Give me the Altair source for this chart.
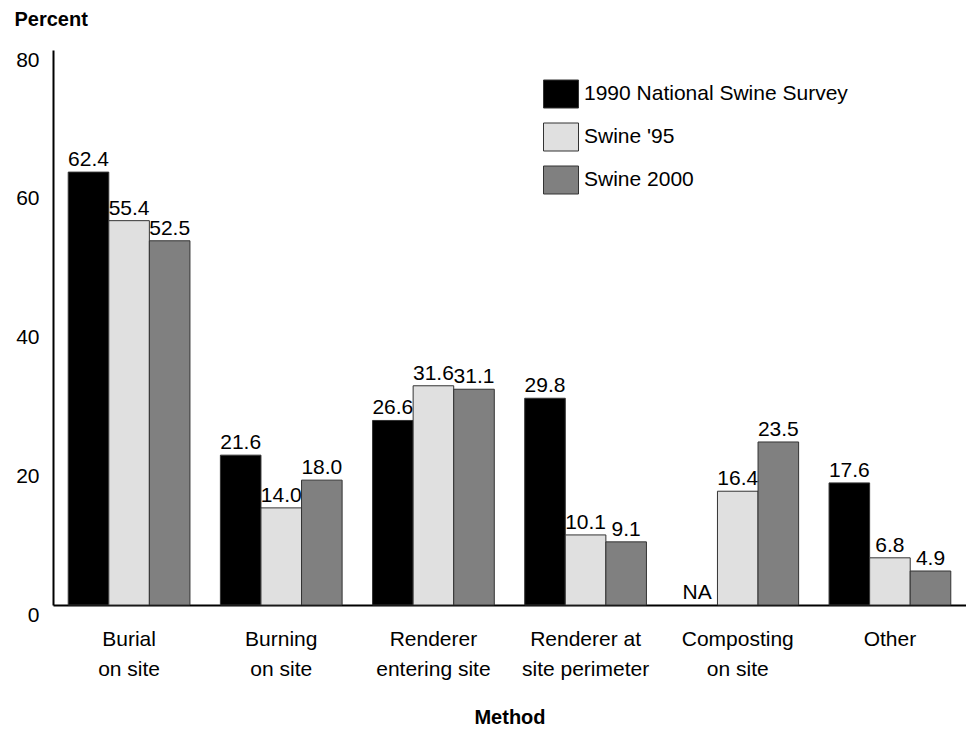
import altair as alt
import pandas as pd

line1 = ["Burial", "Burning", "Renderer", "Renderer at", "Composting", "Other"]
line2 = ["on site", "on site", "entering site", "site perimeter", "on site", ""]
series = ["1990 National Swine Survey", "Swine '95", "Swine 2000"]
colors = ["#000000", "#e0e0e0", "#808080"]
s1990 = [62.4, 21.6, 26.6, 29.8, None, 17.6]
s1995 = [55.4, 14.0, 31.6, 10.1, 16.4, 6.8]
s2000 = [52.5, 18.0, 31.1, 9.1, 23.5, 4.9]
y_ticks = [0, 20, 40, 60, 80]

cats = [a + ("|" + b if b else "") for a, b in zip(line1, line2)]
rows = []
for s, vals in zip(series, [s1990, s1995, s2000]):
    for c, v in zip(cats, vals):
        rows.append({
            "Method": c,
            "Series": s,
            "Value": v,
            "ypos": v if v is not None else 0,
            "label": f"{v:.1f}" if v is not None else "NA",
        })
df = pd.DataFrame(rows)

FONT = "Liberation Sans"
FS = 21

x = alt.X("Method:N", sort=cats,
          scale=alt.Scale(paddingInner=0.2, paddingOuter=0.1),
          axis=alt.Axis(title="Method", labelExpr="split(datum.label, '|')",
                        labelAngle=0, ticks=False, domainColor="#000",
                        domainWidth=2, labelFontSize=FS, labelLineHeight=30,
                        labelPadding=23, labelColor="#000", labelLimit=0,
                        titleFontSize=20, titleFontWeight="bold",
                        titleY=112, titleBaseline="middle", titleColor="#000"))
xo = alt.XOffset("Series:N", sort=series)

bars = alt.Chart(df).mark_bar(stroke="#333", strokeWidth=1).encode(
    x=x, xOffset=xo,
    y=alt.Y("Value:Q", scale=alt.Scale(domain=[0, 80], nice=False),
            axis=alt.Axis(values=y_ticks, title="Percent", ticks=False, grid=False,
                          domainColor="#000", domainWidth=2, labelFontSize=FS,
                          labelPadding=14, labelOffset=10, labelColor="#000",
                          titleAngle=0, titleAlign="left", titleBaseline="top",
                          titleX=-39, titleY=-41, titleFontSize=20,
                          titleFontWeight="bold", titleColor="#000")),
    color=alt.Color("Series:N", sort=series,
                    scale=alt.Scale(domain=series, range=colors),
                    legend=alt.Legend(title=None, orient="none", legendX=490, legendY=26,
                                      direction="vertical", labelFontSize=FS,
                                      labelColor="#000", labelLimit=0,
                                      symbolType="M-1,-0.8H1V0.8H-1Z", symbolSize=1225,
                                      symbolStrokeColor="#333", symbolStrokeWidth=1,
                                      symbolOpacity=1,
                                      rowPadding=9, labelOffset=5, padding=0)),
)

text = alt.Chart(df).mark_text(baseline="bottom", dy=-2, fontSize=FS, color="#000",
                               font=FONT).encode(
    x=x, xOffset=xo,
    y=alt.Y("ypos:Q"),
    text="label:N",
)

chart = alt.layer(bars, text).properties(
    width=913, height=555,
    autosize=alt.AutoSizeParams(type="none"),
    padding={"left": 45, "top": 42, "right": 0, "bottom": 126},
).configure(font=FONT).configure_view(stroke=None)

chart.save("out.html", embed_options={"renderer": "svg", "actions": False})
